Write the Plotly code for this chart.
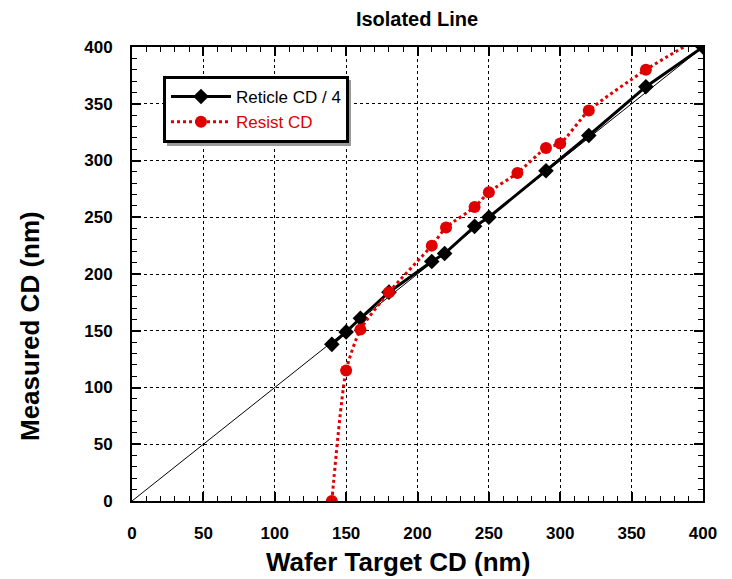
import plotly.graph_objects as go

# Data
reticle_x = [140, 150, 160, 180, 210, 219, 240, 250, 290, 320, 360, 400]
reticle_y = [138, 149, 161, 184, 211, 218, 242, 250, 291, 322, 365, 400]

resist_x = [140, 150, 160, 180, 210, 220, 240, 250, 270, 290, 300, 320, 360, 400]
resist_y = [0, 115, 151, 184, 225, 241, 259, 272, 289, 311, 315, 344, 380, 410]

ref_x = [0, 400]
ref_y = [0, 400]

x_ticks = [0, 50, 100, 150, 200, 250, 300, 350, 400]
y_ticks = [0, 50, 100, 150, 200, 250, 300, 350, 400]

FONT = "Liberation Sans, Arial, sans-serif"
RED = "#e00000"

W, H = 724, 571
ML, MR, MT, MB = 124, 29, 39, 78
PW = W - ML - MR
PH = H - MT - MB

fig = go.Figure()

fig.add_trace(go.Scatter(
    x=ref_x, y=ref_y, mode="lines",
    line=dict(color="black", width=1), showlegend=False, hoverinfo="skip"))

fig.add_trace(go.Scatter(
    x=reticle_x, y=reticle_y, mode="lines+markers", name="Reticle CD / 4",
    line=dict(color="black", width=3),
    marker=dict(symbol="diamond", size=12, color="black")))

fig.add_trace(go.Scatter(
    x=resist_x, y=resist_y, mode="lines+markers",
    name="<span style='color:#e00000'>Resist CD</span>",
    line=dict(color=RED, width=3, dash="dot", shape="spline", smoothing=0.6),
    marker=dict(symbol="circle", size=12, color=RED)))

axis_common = dict(
    showline=True, linecolor="black", linewidth=2, mirror="ticks",
    showgrid=True, gridcolor="black", griddash="dot", gridwidth=1,
    ticks="inside", ticklen=9, tickwidth=1.5, tickcolor="black",
    zeroline=False,
    tickfont=dict(family=FONT, size=17, color="black", weight="bold"),
    minor=dict(dtick=10, ticks="inside", ticklen=5, tickwidth=1, tickcolor="black", showgrid=False),
)

fig.update_xaxes(range=[0, 400], tickvals=x_ticks, ticklabelstandoff=16, **axis_common)
fig.update_yaxes(range=[0, 400], tickvals=y_ticks, ticklabelstandoff=14, **axis_common)

fig.add_annotation(
    text="<b>Wafer Target CD (nm)</b>", xref="paper", yref="paper",
    x=(390 - ML) / PW, y=(MT + PH - 554) / PH, xanchor="center", yanchor="middle",
    showarrow=False, font=dict(family=FONT, size=26, color="black"))
fig.add_annotation(
    text="<b>Measured CD (nm)</b>", xref="paper", yref="paper", textangle=-90,
    x=(22 - ML) / PW, y=(MT + PH - 318) / PH, xanchor="center", yanchor="middle",
    showarrow=False, font=dict(family=FONT, size=26, color="black"))

# legend drop shadow (screen px -> paper)
def px_x(v):
    return (v - 8 - ML) / PW

def px_y(v):
    return (MT + PH - (v - 8)) / PH

fig.add_shape(type="rect", xref="paper", yref="paper",
              x0=px_x(167), x1=px_x(351), y0=px_y(146), y1=px_y(80),
              fillcolor="#9a9a9a", line=dict(width=0), layer="above")

fig.update_layout(
    width=W, height=H,
    margin=dict(l=ML, r=MR, t=MT, b=MB),
    paper_bgcolor="white", plot_bgcolor="white",
    title=dict(text="<b>Isolated Line</b>", x=409 / W, xanchor="center",
               y=1 - 11 / H, yanchor="middle",
               font=dict(family=FONT, size=20, color="black")),
    legend=dict(x=(163 - 132) / PW, y=(501 - 76) / PH, xanchor="left", yanchor="top",
                bgcolor="white", bordercolor="black", borderwidth=3,
                font=dict(family=FONT, size=17, color="black"),
                itemwidth=60, tracegroupgap=0),
    font=dict(family=FONT),
)

fig.write_html("out.html")
